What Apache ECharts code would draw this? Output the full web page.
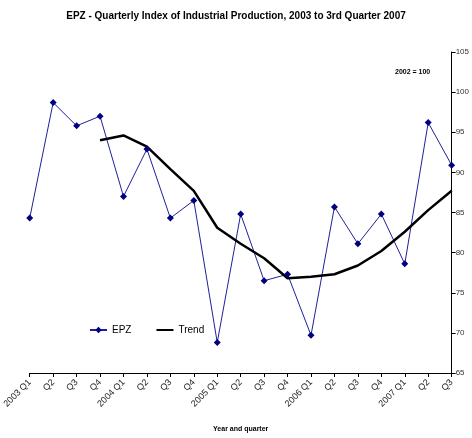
<!DOCTYPE html>
<html>
<head>
<meta charset="utf-8">
<script src="https://cdn.jsdelivr.net/npm/echarts@6/dist/echarts.min.js"></script>
<style>
  html, body { margin: 0; padding: 0; background: #fff; }
  #chart { width: 472px; height: 438px; }
</style>
</head>
<body>
<div id="chart"></div>
<script>
// quarters, 2003 Q1 .. 2007 Q3
const quarters = [
  '2003 Q1', 'Q2', 'Q3', 'Q4',
  '2004 Q1', 'Q2', 'Q3', 'Q4',
  '2005 Q1', 'Q2', 'Q3', 'Q4',
  '2006 Q1', 'Q2', 'Q3', 'Q4',
  '2007 Q1', 'Q2', 'Q3'
]
const epz = [84.3, 98.7, 95.8, 97.0, 87.0, 92.9, 84.3, 86.5, 68.8, 84.8, 76.5, 77.3, 69.7, 85.7, 81.1, 84.8, 78.6, 96.2, 90.9]
const trend = [null, null, null, 94.0, 94.6, 93.2, 90.4, 87.7, 83.1, 81.1, 79.3, 76.8, 77.0, 77.3, 78.4, 80.2, 82.6, 85.3, 87.7]
const yTicks = [65, 70, 75, 80, 85, 90, 95, 100, 105]

const font = '"Liberation Sans Narrow", "Liberation Sans", Arial, sans-serif'
const chart = echarts.init(document.getElementById('chart'))

chart.setOption({
  animation: false,
  textStyle: { fontFamily: font },
  title: [
    {
      text: 'EPZ - Quarterly Index of Industrial Production, 2003 to 3rd Quarter 2007',
      left: 'center',
      top: 6,
      textStyle: { fontSize: 10, fontWeight: 'bold', color: '#000', fontFamily: font },
    },
    {
      text: '2002 = 100',
      left: 390,
      top: 64,
      textStyle: { fontSize: 7, fontWeight: 'bold', color: '#000', fontFamily: font },
    },
  ],
  legend: {
    left: 84,
    top: 320,
    itemGap: 24,
    itemWidth: 17,
    itemHeight: 8,
    textStyle: { fontSize: 10, color: '#000', fontFamily: font },
    data: [
      { name: 'EPZ' },
      { name: 'Trend', itemStyle: { opacity: 0 } },
    ],
  },
  grid: { left: 27, right: 13, top: 52, bottom: 64 },
  xAxis: {
    type: 'category',
    data: quarters,
    boundaryGap: false,
    name: 'Year and quarter',
    nameLocation: 'middle',
    nameGap: 53,
    nameTextStyle: { fontSize: 7, fontWeight: 'bold', color: '#000', fontFamily: font },
    axisLine: { lineStyle: { color: '#000', width: 1 } },
    axisTick: { alignWithLabel: true, length: 4, lineStyle: { color: '#000' } },
    axisLabel: {
      interval: 0,
      rotate: 45,
      fontSize: 9,
      color: '#222',
      margin: 8,
      fontFamily: font,
    },
    splitLine: { show: false },
  },
  yAxis: {
    type: 'value',
    position: 'right',
    min: yTicks[0],
    max: yTicks[yTicks.length - 1],
    interval: 5,
    axisLine: { show: true, lineStyle: { color: '#000', width: 1 } },
    axisTick: { show: true, length: 4, lineStyle: { color: '#000' } },
    axisLabel: { fontSize: 8, color: '#333', margin: 4, fontFamily: font },
    splitLine: { show: false },
  },
  series: [
    {
      name: 'EPZ',
      type: 'line',
      data: epz,
      symbol: 'diamond',
      symbolSize: 7,
      itemStyle: { color: '#000080' },
      lineStyle: { color: '#1f1f9a', width: 1 },
    },
    {
      name: 'Trend',
      type: 'line',
      data: trend,
      symbol: 'none',
      itemStyle: { color: '#000' },
      lineStyle: { color: '#000', width: 2.5 },
    },
  ],
})
</script>
</body>
</html>
